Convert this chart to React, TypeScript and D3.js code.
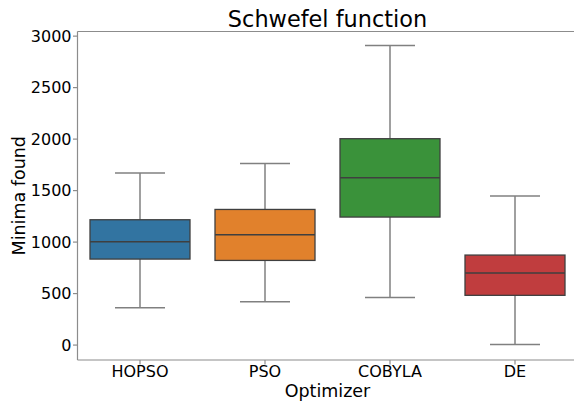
import React from "react";
import * as d3 from "d3";

const categories = ["HOPSO", "PSO", "COBYLA", "DE"];
const whiskerLow = [363, 421, 463, 5];
const q1 = [835, 822, 1243, 483];
const median = [1004, 1072, 1625, 699];
const q3 = [1217, 1317, 2004, 874];
const whiskerHigh = [1670, 1764, 2910, 1447];
const fills = ["#3274a1", "#e1812c", "#3a923a", "#c03d3e"];
const yTicks = [0, 500, 1000, 1500, 2000, 2500, 3000];

export default function App() {
  const W = 574, H = 405;
  const left = 77.5, right = 577.5, top = 31.5, bottom = 360;
  const x = d3.scaleLinear().domain([-0.5, categories.length - 0.5]).range([left, right]);
  const y = d3.scaleLinear().domain([-145, 3045]).range([bottom, top]);
  const step = x(1) - x(0);
  const boxW = step * 0.8;
  const capW = step * 0.4;
  const font = "DejaVu Sans, sans-serif";
  const spine = "#8c8c8c";
  const edge = "#3f3f3f";
  const whisk = "#808080";
  return (
    <svg width={W} height={H} style={{ position: "absolute", left: 0, top: 0 }} fontFamily={font}>
      <rect x={0} y={0} width={W} height={H} fill="#fff" />
      <text x={(left + right) / 2} y={26.5} textAnchor="middle" fontSize={22.4} fill="#000">Schwefel function</text>
      {/* spines */}
      <line x1={left} x2={right} y1={top} y2={top} stroke={spine} strokeWidth={1.2} />
      <line x1={left} x2={left} y1={top} y2={bottom} stroke={spine} strokeWidth={1.2} />
      <line x1={left} x2={right} y1={bottom} y2={bottom} stroke={spine} strokeWidth={1.2} />
      {yTicks.map((t) => (
        <g key={t}>
          <line x1={left - 4.5} x2={left} y1={y(t)} y2={y(t)} stroke={spine} strokeWidth={1.2} />
          <text x={left - 6} y={y(t)} dy="0.36em" textAnchor="end" fontSize={16} fill="#000">{t}</text>
        </g>
      ))}
      {categories.map((c, i) => (
        <g key={c}>
          <line x1={x(i)} x2={x(i)} y1={bottom} y2={bottom + 4.5} stroke={spine} strokeWidth={1.2} />
          <text x={x(i)} y={377} textAnchor="middle" fontSize={16} fill="#000">{c}</text>
        </g>
      ))}
      <text x={(left + right) / 2} y={397} textAnchor="middle" fontSize={17.5} fill="#000">Optimizer</text>
      <text transform={`translate(25,${(top + bottom) / 2}) rotate(-90)`} textAnchor="middle" fontSize={17.5} fill="#000">Minima found</text>
      {categories.map((c, i) => {
        const cx = x(i);
        return (
          <g key={"b" + c}>
            <line x1={cx} x2={cx} y1={y(q3[i])} y2={y(whiskerHigh[i])} stroke={whisk} strokeWidth={1.5} />
            <line x1={cx} x2={cx} y1={y(q1[i])} y2={y(whiskerLow[i])} stroke={whisk} strokeWidth={1.5} />
            <line x1={cx - capW / 2} x2={cx + capW / 2} y1={y(whiskerHigh[i])} y2={y(whiskerHigh[i])} stroke={whisk} strokeWidth={1.5} />
            <line x1={cx - capW / 2} x2={cx + capW / 2} y1={y(whiskerLow[i])} y2={y(whiskerLow[i])} stroke={whisk} strokeWidth={1.5} />
            <rect x={cx - boxW / 2} y={y(q3[i])} width={boxW} height={y(q1[i]) - y(q3[i])} fill={fills[i]} stroke={edge} strokeWidth={1.3} />
            <line x1={cx - boxW / 2} x2={cx + boxW / 2} y1={y(median[i])} y2={y(median[i])} stroke={edge} strokeWidth={1.5} />
          </g>
        );
      })}
    </svg>
  );
}
